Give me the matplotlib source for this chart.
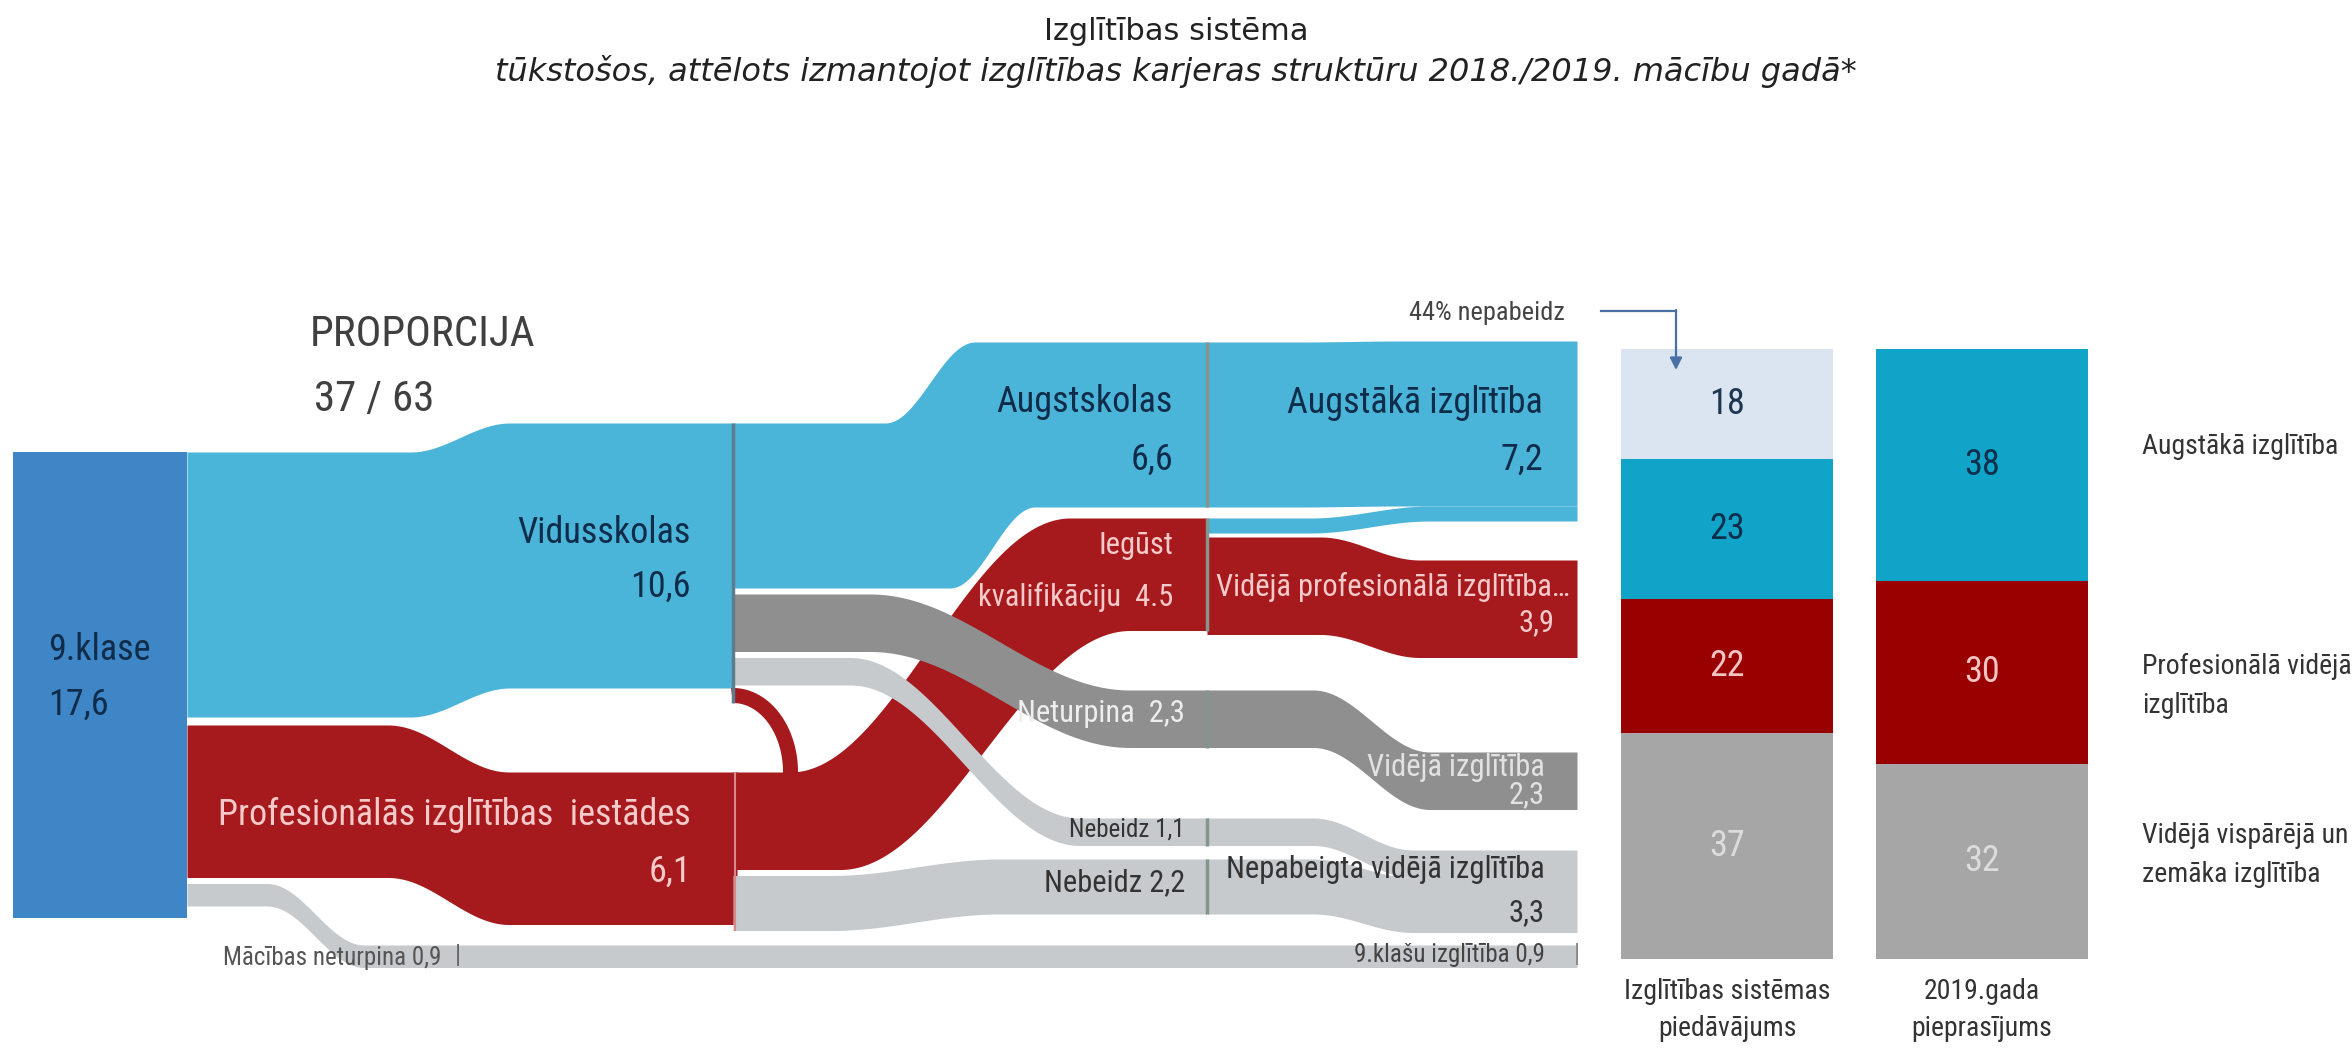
import numpy as np
import matplotlib.pyplot as plt
from matplotlib import font_manager

# pick a condensed face if one is installed
names = {f.name for f in font_manager.fontManager.ttflist}
narrow = next((n for n in ['Liberation Sans Narrow', 'Roboto Condensed', 'DejaVu Sans Condensed',
                           'Noto Sans Condensed', 'Open Sans Condensed', 'Liberation Sans']
               if n in names), 'DejaVu Sans')

# data (thousands of students)
klase9 = 17.6
col1_vals = [10.6, 6.1, 0.9]            # Vidusskolas, Profesionalas, macibas neturpina
vid_out = [6.6, 2.3, 1.1, 0.6]          # Augstskolas, Neturpina, Nebeidz, uz prof. izgl.
prof_out = [3.9, 2.2]                   # Iegust kvalifikaciju, Nebeidz
iegust = 4.5
iegust_out = [0.6, 3.9]                 # uz augstako, videja profesionala
result_vals = [7.2, 3.9, 2.3, 3.3, 0.9]

offer_vals = [18, 23, 22, 37]
demand_vals = [38, 30, 32]
offer_cols = ['#dbe5f1', '#10a5c8', '#990000', '#a6a6a6']
demand_cols = ['#10a5c8', '#990000', '#a6a6a6']
offer_txt = ['#1e3550', '#0d2f4d', '#f4c4c4', '#dcdcdc']
demand_txt = ['#0d2f4d', '#f4c4c4', '#dcdcdc']
legend_labels = ['Augstākā izglītība', 'Profesionālā vidējā\nizglītība', 'Vidējā vispārējā un\nzemāka izglītība']
bar_labels = ['Izglītības sistēmas\npiedāvājums', '2019.gada\npieprasījums']

c_klase = '#3f86c7'
c_blue = '#4bb4d9'
c_red = '#a6191c'
c_dgray = '#8f8f8f'
c_lgray = '#c6cacd'
navy = '#0f2d4a'
pink = '#f6caca'

K = 25.0  # px per thousand

fig = plt.figure(figsize=(23.52, 10.56), dpi=100)
ax = fig.add_axes([0, 0, 1, 1])
ax.set_xlim(0, 2352)
ax.set_ylim(1056, 0)
ax.axis('off')


def ss(t):
    t = np.clip(t, 0, 1)
    return (1 - np.cos(np.pi * t)) / 2


def band(x0, x1, top0, top1, v0, v1, xs, color, z, xs_bot=None):
    # flow ribbon; top and bottom edges may bend over different x ranges
    xs_bot = xs if xs_bot is None else xs_bot
    x = np.linspace(x0, x1, 400)
    st = ss((x - xs[0]) / (xs[1] - xs[0]))
    sb = ss((x - xs_bot[0]) / (xs_bot[1] - xs_bot[0]))
    bot0, bot1 = top0 + v0 * K, top1 + v1 * K
    top = top0 + (top1 - top0) * st
    bot = bot0 + (bot1 - bot0) * sb
    ax.fill_between(x, top, bot, color=color, lw=0, zorder=z)


X0, X1, X2, X3 = 187, 733, 1207, 1577

# 9.klase node
k_top = 452
ax.bar(100, klase9 * K + 26, bottom=k_top, width=X0 - 13, color=c_klase, zorder=2)

# 9.klase -> column 1
a_top = k_top
b_top = a_top + col1_vals[0] * K + 8
c_top = b_top + col1_vals[1] * K + 6
band(X0, X1, a_top, 423, col1_vals[0], col1_vals[0], (410, 510), c_blue, 2)
band(X0, X1 + 4, b_top, 772, col1_vals[1], col1_vals[1], (388, 509), c_red, 3)
band(X0, X3, c_top, 945, col1_vals[2], col1_vals[2], (267, 364), c_lgray, 2)

# Vidusskolas / Profesionalas -> column 2
d_top0 = 423
e_top0 = d_top0 + vid_out[0] * K + 6
f_top0 = e_top0 + vid_out[1] * K + 6
g_top0 = f_top0 + vid_out[2] * K + 3
band(X1, X2, d_top0, 342, vid_out[0], vid_out[0], (885, 975), c_blue, 2, xs_bot=(950, 1035))
band(X1, X2, 772, 518, prof_out[0], iegust, (790, 1070), c_red, 3, xs_bot=(840, 1130))
band(X1, X2, e_top0, 690, vid_out[1], vid_out[1], (870, 1130), c_dgray, 4)
band(X1, X2, f_top0, 818, vid_out[2], vid_out[2], (850, 1080), c_lgray, 5)
i_top0 = 772 + prof_out[0] * K + 6
band(X1, X2, i_top0, 859, prof_out[1], prof_out[1], (830, 1000), c_lgray, 5)

# small loop Vidusskolas -> professional track
th = vid_out[3] * K
t = np.linspace(0, np.pi / 2, 80)
ro_y, ro_x = 772 - g_top0, 65
ri_y, ri_x = ro_y - th, ro_x - th
xo, yo = X1 + ro_x * np.sin(t), 772 - ro_y * np.cos(t)
xi, yi = X1 + ri_x * np.sin(t), 772 - ri_y * np.cos(t)
ext = np.r_[np.zeros(79), 6]
ax.fill(np.r_[X1 - 2, xo, xi[::-1]], np.r_[g_top0, yo + ext, (yi + ext)[::-1]],
        color=c_red, lw=0, zorder=3)

# column 2 -> column 3
band(X2, X3, 342, 341, vid_out[0], vid_out[0], (1300, 1400), c_blue, 2)
band(X2, X3, 518, 341 + vid_out[0] * K, iegust_out[0], iegust_out[0], (1310, 1430), c_blue, 2)
band(X2, X3, 537, 560, iegust_out[1], iegust_out[1], (1320, 1420), c_red, 3)
band(X2, X3, 690, 752, vid_out[1], vid_out[1], (1313, 1430), c_dgray, 4)
band(X2, X3, 818, 850, vid_out[2], vid_out[2], (1313, 1413), c_lgray, 5)
band(X2, X3, 859, 850 + vid_out[2] * K, prof_out[1], prof_out[1], (1313, 1413), c_lgray, 5)

# node separators
ax.vlines(X1, 423, g_top0 + th, color='#5d7c8c', lw=2.5, zorder=6)
ax.vlines(X1 + 2, 772, i_top0 + prof_out[1] * K, color='#d9888a', lw=1.5, zorder=6)
for top, v in [(342, vid_out[0]), (518, iegust), (690, vid_out[1]), (818, vid_out[2]), (859, prof_out[1])]:
    ax.vlines(X2, top, top + v * K, color='#86958c', lw=2.5, zorder=6)

# node labels
big = dict(family=narrow, fontsize=26, zorder=10)
mid = dict(family=narrow, fontsize=22, zorder=10)
small = dict(family=narrow, fontsize=18, zorder=10)
ax.text(48, 650, '9.klase', color=navy, va='center', ha='left', **big)
ax.text(48, 705, '17,6', color=navy, va='center', ha='left', **big)
ax.text(691, 533, 'Vidusskolas', color=navy, va='center', ha='right', **big)
ax.text(691, 587, '10,6', color=navy, va='center', ha='right', **big)
ax.text(691, 815, 'Profesionālās izglītības  iestādes', color=pink, va='center', ha='right', **big)
ax.text(691, 872, '6,1', color=pink, va='center', ha='right', **big)
ax.text(223, 958, 'Mācības neturpina 0,9', color='#555555', va='center', ha='left', **small)
ax.text(458, 956, '|', color='#666666', va='center', ha='center', **small)

ax.text(1173, 402, 'Augstskolas', color=navy, va='center', ha='right', **big)
ax.text(1173, 460, '6,6', color=navy, va='center', ha='right', **big)
ax.text(1173, 545, 'Iegūst', color=pink, va='center', ha='right', **mid)
ax.text(1173, 597, 'kvalifikāciju  4.5', color=pink, va='center', ha='right', **mid)
ax.text(1185, 713, 'Neturpina  2,3', color='#eeeeee', va='center', ha='right', **mid)
ax.text(1185, 830, 'Nebeidz 1,1', color='#333333', va='center', ha='right', **small)
ax.text(1185, 883, 'Nebeidz 2,2', color='#333333', va='center', ha='right', **mid)

ax.text(1543, 403, 'Augstākā izglītība', color=navy, va='center', ha='right', **big)
ax.text(1543, 460, '7,2', color=navy, va='center', ha='right', **big)
ax.text(1570, 587, 'Vidējā profesionālā izglītība…', color=pink, va='center', ha='right', **mid)
ax.text(1555, 623, '3,9', color=pink, va='center', ha='right', **mid)
ax.text(1545, 767, 'Vidējā izglītība', color='#e2e2e2', va='center', ha='right', **mid)
ax.text(1545, 795, '2,3', color='#e2e2e2', va='center', ha='right', **mid)
ax.text(1545, 870, 'Nepabeigta vidējā izglītība', color='#333333', va='center', ha='right', **mid)
ax.text(1545, 913, '3,3', color='#333333', va='center', ha='right', **mid)
ax.text(1545, 955, '9.klašu izglītība 0,9', color='#444444', va='center', ha='right', **small)
ax.text(X3, 955, '|', color='#888888', va='center', ha='center', **small)

ax.text(310, 335, 'PROPORCIJA', color='#404040', va='center', ha='left', family=narrow, fontsize=31)
ax.text(314, 400, '37 / 63', color='#404040', va='center', ha='left', family=narrow, fontsize=31)

# stacked bars: supply vs demand
BS = 6.1
bx = [1727, 1982]
for xc, vals, cols, tcols in [(bx[0], offer_vals, offer_cols, offer_txt), (bx[1], demand_vals, demand_cols, demand_txt)]:
    bottom = 349
    for v, c, tc in zip(vals, cols, tcols):
        ax.bar(xc, v * BS, bottom=bottom, width=212, color=c, lw=0, zorder=2)
        ax.text(xc, bottom + v * BS / 2, str(v), color=tc, ha='center', va='center',
                family=narrow, fontsize=26, zorder=10)
        bottom += v * BS
for xc, lab in zip(bx, bar_labels):
    ax.text(xc, 1010, lab, ha='center', va='center', family=narrow, fontsize=20,
            color='#333333', linespacing=1.45)
for yc, lab in zip([447, 686, 855], legend_labels):
    ax.text(2142, yc, lab, ha='left', va='center', family=narrow, fontsize=20,
            color='#333333', linespacing=1.55)

# 44% annotation
ax.text(1565, 313, '44% nepabeidz', ha='right', va='center', family=narrow, fontsize=19, color='#444444')
ax.plot([1601, 1676], [311, 311], color='#4a6fa5', lw=1.6)
ax.annotate('', xy=(1676, 370), xytext=(1676, 310),
            arrowprops=dict(arrowstyle='-|>', color='#4a6fa5', lw=1.6, mutation_scale=18,
                            shrinkA=0, shrinkB=0))

# titles
ax.text(1176, 32, 'Izglītības sistēma', ha='center', va='center', family='DejaVu Sans',
        fontsize=22, color='#222222')
ax.text(1176, 72, 'tūkstošos, attēlots izmantojot izglītības karjeras struktūru 2018./2019. mācību gadā*',
        ha='center', va='center', family='DejaVu Sans', style='italic', fontsize=23, color='#222222')

fig.savefig('out.png', dpi=100)
